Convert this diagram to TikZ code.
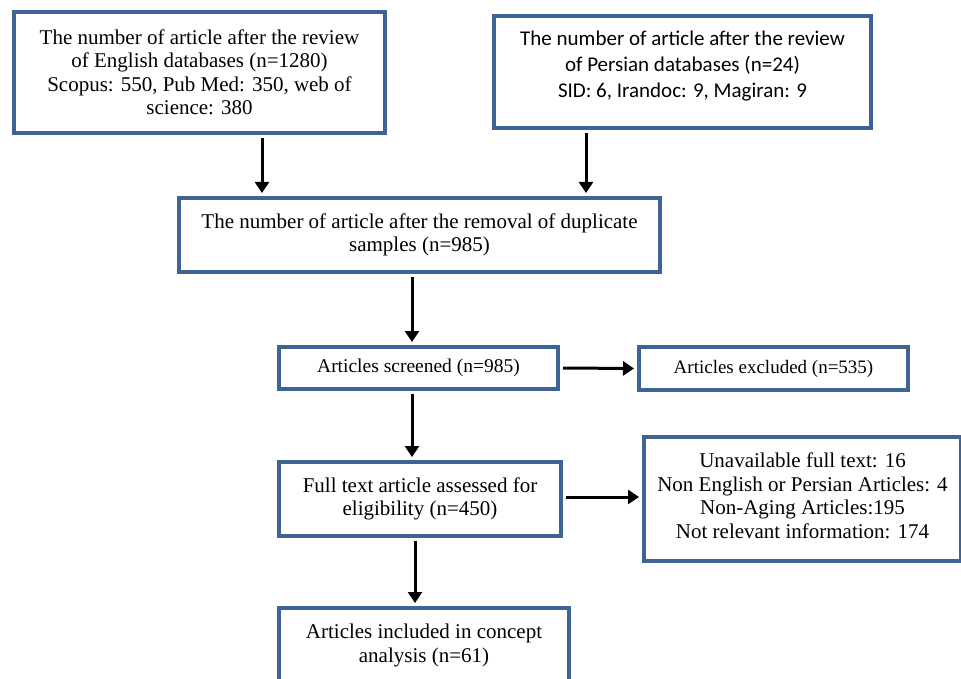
\documentclass[tikz,border=0pt]{standalone}
\usepackage{fontspec}
\setmainfont{Liberation Serif}
\newfontfamily\calibrifont{Carlito}
\usetikzlibrary{arrows.meta}
\definecolor{boxblue}{RGB}{62,100,150}
\begin{document}
\begin{tikzpicture}[x=1pt,y=-1pt,
    flowbox/.style={draw=boxblue,line width=4pt,fill=white,align=center,inner sep=0pt,
      font=\fontsize{21}{23.5}\selectfont},
    flowarrow/.style={line width=3pt,shorten <=3pt,shorten >=3pt,
      -{Triangle[length=11pt,width=14pt]}}]
      \useasboundingbox (0,0) rectangle (961,679);

      % database searches
      \node[flowbox,minimum width=371pt,minimum height=121pt] (eng) at (199.5,72.5)
        {The number of article after the review\\ of English databases (n=1280)\\
         Scopus: 550, Pub Med: 350, web of\\ science: 380};
      \node[flowbox,minimum width=377pt,minimum height=112pt] (per) at (682.5,72)
        {\parbox[c][112pt][t]{377pt}{\centering\calibrifont\fontsize{21}{26}\selectfont
         \vspace*{15pt}The number of article after the review\\ of Persian databases (n=24)\\
         SID: 6, Irandoc: 9, Magiran: 9}};

      % screening
      \node[flowbox,minimum width=481pt,minimum height=74pt] (dup) at (419.5,235)
        {The number of article after the removal of duplicate\\ samples (n=985)};
      \node[flowbox,minimum width=279pt,minimum height=42pt,font=\fontsize{19.5}{22}\selectfont]
        (scr) at (418.5,368) {Articles screened (n=985)};
      \node[flowbox,minimum width=269pt,minimum height=43pt,font=\fontsize{19}{22}\selectfont]
        (exc) at (773.5,368.5) {Articles excluded (n=535)};
      \node[flowbox,minimum width=282pt,minimum height=74pt] (full) at (420,499)
        {Full text article assessed for\\ eligibility (n=450)};
      \node[flowbox,minimum width=317pt,minimum height=124pt] (rsn) at (802.5,499)
        {Unavailable full text: 16\\ Non English or Persian Articles: 4\\
         Non-Aging Articles:195\\ Not relevant information: 174\\[-17pt]};
      \node[flowbox,minimum width=290pt,minimum height=75pt] (inc) at (424,645.5)
        {Articles included in concept\\ analysis (n=61)};

      \draw[flowarrow] (eng.south -| 262,0) -- (dup.north -| 262,0);
      \draw[flowarrow] (per.south -| 586,0) -- (dup.north -| 586,0);
      \draw[flowarrow] (dup.south -| 412,0) -- (scr.north -| 412,0);
      \draw[flowarrow] (scr.east) -- (exc.west);
      \draw[flowarrow] (scr.south -| 412,0) -- (full.north -| 412,0);
      \draw[flowarrow] (full.east |- 0,497) -- (rsn.west |- 0,497);
      \draw[flowarrow] (full.south -| 415,0) -- (inc.north -| 415,0);
    \end{tikzpicture}
\end{document}
